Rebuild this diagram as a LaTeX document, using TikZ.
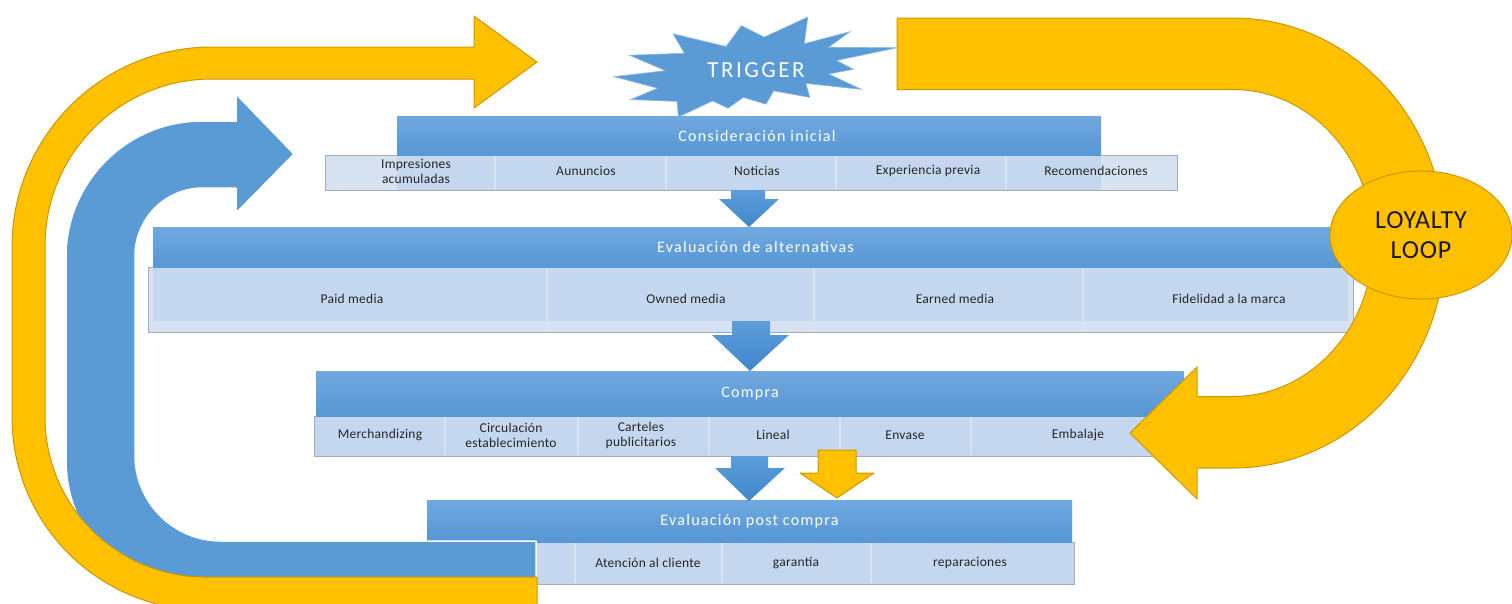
\documentclass[tikz,border=0pt]{standalone}
\usepackage{fontspec}
\setmainfont{Carlito}
\newfontfamily\titlefont[LetterSpace=8]{Carlito}
\newfontfamily\cellfont[LetterSpace=2]{Carlito}
\newfontfamily\trigfont[LetterSpace=11]{Carlito}
\newfontfamily\loopfont[LetterSpace=3]{Carlito}
\usetikzlibrary{shapes.geometric}

\definecolor{hdrtop}{HTML}{70A8DE}
\definecolor{hdrbot}{HTML}{5697D5}
\definecolor{celllight}{HTML}{D6E2F1}
\definecolor{celldark}{HTML}{C5D7EE}
\definecolor{cellline}{HTML}{A7ACB4}
\definecolor{divline}{HTML}{D9E4F3}
\definecolor{accblue}{HTML}{5B9BD5}
\definecolor{arrtop}{HTML}{5C9DD9}
\definecolor{arrbot}{HTML}{3F87CB}
\definecolor{gold}{HTML}{FFC000}
\definecolor{goldline}{HTML}{C99A00}
\definecolor{txt}{HTML}{262626}

\tikzset{
  hdr/.style={rectangle, top color=hdrtop, bottom color=hdrbot, inner sep=0pt,
    text=white, font=\titlefont\fontsize{16}{18}\selectfont},
  subbg/.style={fill=celllight, draw=cellline, line width=0.8pt},
  subin/.style={fill=celldark},
  divider/.style={draw=divline, line width=1.3pt},
  lbl/.style={text=txt, inner sep=0pt, align=center,
    font=\cellfont\fontsize{13.5}{15}\selectfont},
  blockdown/.style={top color=arrtop, bottom color=arrbot},
  goldshape/.style={fill=gold, draw=goldline, line width=1pt, line join=round},
  blueshape/.style={fill=accblue, draw=white, line width=1.5pt, line join=round},
}

\begin{document}
\begin{tikzpicture}[x=1pt,y=-1pt]
\useasboundingbox (0,0) rectangle (1512,603);
\clip (0,0) rectangle (1512,603);
\fill[white] (0,0) rectangle (1512,603);

% ---- stage 1: Consideración inicial
\path[subbg] (325,155) rectangle (1177,190);
\path[subin] (397,155.5) rectangle (1101,189.5);
\foreach \x in {495,666,836,1006} \draw[divider] (\x,156) -- (\x,189);
\node[hdr, minimum width=704pt, minimum height=39pt] (h1) at (749,135.5) {\hspace*{16pt}Consideración inicial};
\node[lbl] (c11) at (416,171) {Impresiones\\acumuladas};
\node[lbl] (c12) at (586,171) {Aununcios};
\node[lbl] (c13) at (757,171) {Noticias};
\node[lbl] (c14) at (928,171) {Experiencia previa};
\node[lbl] (c15) at (1096,171) {Recomendaciones};

% ---- stage 2: Evaluación de alternativas
\path[subbg] (148,267) rectangle (1353,332);
\path[subin] (153,267.5) rectangle (1348,321);
\foreach \x in {547,814,1083} \draw[divider] (\x,268) -- (\x,331);
\node[hdr, minimum width=1195pt, minimum height=40pt] (h2) at (750.5,247) {\hspace*{10pt}\raisebox{-4pt}{Evaluación de alternativas}};
\node[lbl] (c21) at (352,299) {Paid media};
\node[lbl] (c22) at (686,299) {Owned media};
\node[lbl] (c23) at (955,299) {Earned media};
\node[lbl] (c24) at (1229,299) {Fidelidad a la marca};

% ---- stage 3: Compra
\path[subbg, fill=celldark] (314,416) rectangle (1186,456);
\foreach \x in {445,578,709,840,971} \draw[divider] (\x,417) -- (\x,455);
\node[hdr, minimum width=868pt, minimum height=45pt] (h3) at (750,393.5) {Compra};
\node[lbl] (c31) at (380,435) {Merchandizing};
\node[lbl] (c32) at (511,435) {Circulación\\establecimiento};
\node[lbl] (c33) at (641,435) {Carteles\\publicitarios};
\node[lbl] (c34) at (773,435) {Lineal};
\node[lbl] (c35) at (905,435) {Envase};
\node[lbl] (c36) at (1078,435) {Embalaje};

% ---- stage 4: Evaluación post compra
\path[subbg, fill=celldark] (427,542) rectangle (1074,584);
\foreach \x in {575,722,871} \draw[divider] (\x,543) -- (\x,583);
\node[hdr, minimum width=645pt, minimum height=42pt] (h4) at (749.5,521) {Evaluación post compra};
\node[lbl] (c41) at (648,563) {Atención al cliente};
\node[lbl] (c42) at (796,563) {garantía};
\node[lbl] (c43) at (970,563) {reparaciones};

% ---- down arrows between stages
\path[blockdown] (731,190) -- (765,190) -- (765,199) -- (779,199) -- (749,227)
  -- (719,199) -- (731,199) -- cycle;
\path[blockdown] (732,321) -- (770,321) -- (770,335) -- (789,335) -- (750,371)
  -- (712,335) -- (732,335) -- cycle;
\path[blockdown] (731,456) -- (768,456) -- (768,468) -- (785,468) -- (749,501)
  -- (715,468) -- (731,468) -- cycle;
\path[goldshape] (818,450) -- (856,450) -- (856,473) -- (874,473) -- (837,498)
  -- (800,473) -- (818,473) -- cycle;

% ---- trigger burst
\path[fill=accblue, draw=accblue!70!white, line width=0.6pt, line join=miter]
  (764.2,37.1) -- (807.8,17) -- (804.3,43.7) -- (849.9,31.7) -- (828.6,47.2)
  -- (897,47.8) -- (836.5,60.5) -- (853.4,69.3) -- (828.6,74) -- (861.3,89.4)
  -- (805.8,83.4) -- (809.8,97.4) -- (773.6,90.8) -- (766.1,104.2) -- (743.3,97.4)
  -- (728,108.3) -- (712.6,100.9) -- (678.4,117) -- (677,101.4) -- (630.8,99.5)
  -- (657.6,88.2) -- (614,76.6) -- (665.6,70.7) -- (629.4,55.3) -- (684.4,53.2)
  -- (673,33.8) -- (726,46.5) -- (741.4,25.7) -- cycle;
\node[text=white, inner sep=0pt, font=\trigfont\fontsize{23}{25}\selectfont] (trig) at (756,70) {TRIGGER};

% ---- blue return arrow (left, inner)
\path[blueshape] (536,541) -- (221,541)
  arc[start angle=90, end angle=180, radius=86]
  -- (135,256)
  arc[start angle=180, end angle=270, radius=68]
  -- (236,188) -- (236,213) -- (294,154) -- (236,94) -- (236,121) -- (202,121)
  arc[start angle=270, end angle=180, radius=136]
  -- (66,460)
  arc[start angle=180, end angle=90, radius=139]
  -- (536,599) -- cycle;

% ---- gold return arrow (left, outer)
\path[goldshape] (537,577) -- (205,577)
  arc[start angle=90, end angle=180, radius=160]
  -- (45,246)
  arc[start angle=180, end angle=270, radius=167]
  -- (474,79) -- (474,108) -- (537,62) -- (474,16) -- (474,47) -- (212,47)
  arc[start angle=270, end angle=180, radius=200]
  -- (12,417)
  arc[start angle=180, end angle=90, radius=193]
  -- (537,610) -- cycle;

% ---- loyalty loop arrow (right)
\path[goldshape] (897,18) -- (1233,18)
  arc[start angle=-90, end angle=90, x radius=212, y radius=225]
  -- (1197,468) -- (1197,499) -- (1130,433) -- (1197,367) -- (1197,396.5) -- (1233,396.5)
  arc[start angle=90, end angle=-90, x radius=140, y radius=153.5]
  -- (897,89.5) -- cycle;

\node[ellipse, fill=gold, draw=goldline, line width=1pt, minimum width=182pt,
  minimum height=128pt, inner sep=0pt, align=center, text=black!90,
  font=\loopfont\fontsize{26}{30}\selectfont] (loop) at (1421,235) {LOYALTY\\LOOP};
\end{tikzpicture}
\end{document}
